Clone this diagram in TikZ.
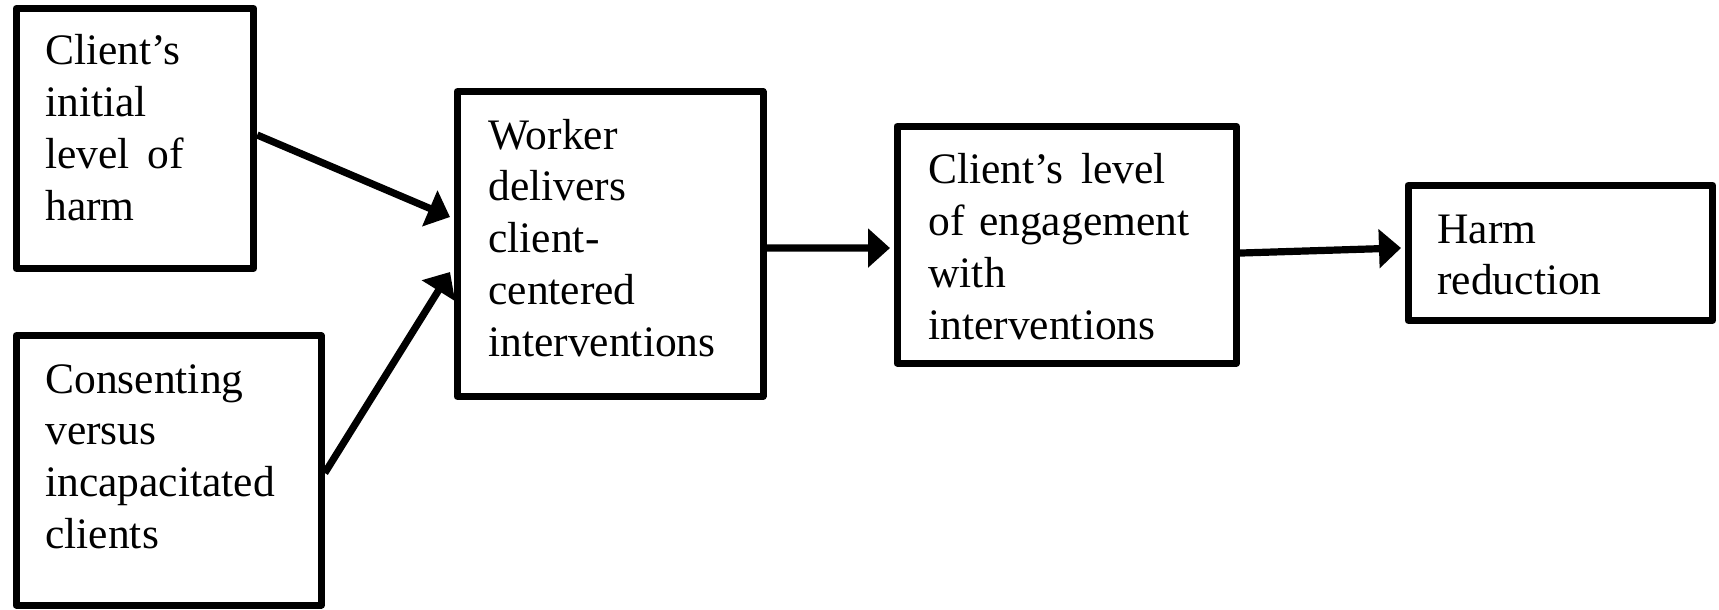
\documentclass[tikz,border=0pt]{standalone}
\usepackage{fontspec}
\setmainfont{Liberation Serif}
\newfontfamily\tnrfont{Liberation Serif}
\usetikzlibrary{arrows.meta}
\begin{document}
\begin{tikzpicture}[x=0.5pt,y=-0.5pt,
  box/.style={draw, line width=3.5pt, rectangle, inner sep=0pt, line join=round},
  txt/.style={anchor=base west, inner sep=0pt, text width=160pt, align=left, font=\tnrfont\fontsize{21.75pt}{25.9pt}\selectfont},
  conn/.style={line width=3.6pt, -{Triangle[length=11pt,width=19pt]}}]
\useasboundingbox (0,0) rectangle (1719,610);
% boxes
\node[box, minimum width=118.85pt, minimum height=129.9pt] (b1) at (134.85,138.4) {};
\node[box, minimum width=152.65pt, minimum height=134.6pt] (b2) at (168.65,470.4) {};
\node[box, minimum width=153pt, minimum height=152.3pt] (b3) at (610,244) {};
\node[box, minimum width=169.75pt, minimum height=118.35pt] (b4) at (1066.75,244.65) {};
\node[box, minimum width=152.35pt, minimum height=67.5pt] (b5) at (1560.35,252.8) {};
% texts
\node[txt] (t1) at (45,65) {Client’s\\initial\\level\hspace{0.4em}of\\harm};
\node[txt] (t2) at (45,393) {Consenting\\versus\\incapacitated\\clients};
\node[txt] (t3) at (488,149) {Worker\\delivers\\client-\\centered\\interventions};
\node[txt] (t4) at (928,184) {Client’s\hspace{0.4em}level\\of engagement\\with\\interventions};
\node[txt] (t5) at (1437,243) {Harm\\reduction};
% connectors
\draw[conn] ([yshift=1.7pt]b1.east) -- ([xshift=-1.75pt,yshift=13.5pt]b3.west);
\draw[conn] ([yshift=-1.3pt]b2.east) -- ([xshift=-1.75pt,yshift=-14pt]b3.west);
\draw[conn] ([yshift=-2pt]b3.east) -- ([xshift=-1.75pt,yshift=-1.7pt]b4.west);
\draw[conn] ([yshift=-4.2pt]b4.east) -- ([xshift=-1.75pt,yshift=2.4pt]b5.west);
\end{tikzpicture}
\end{document}
